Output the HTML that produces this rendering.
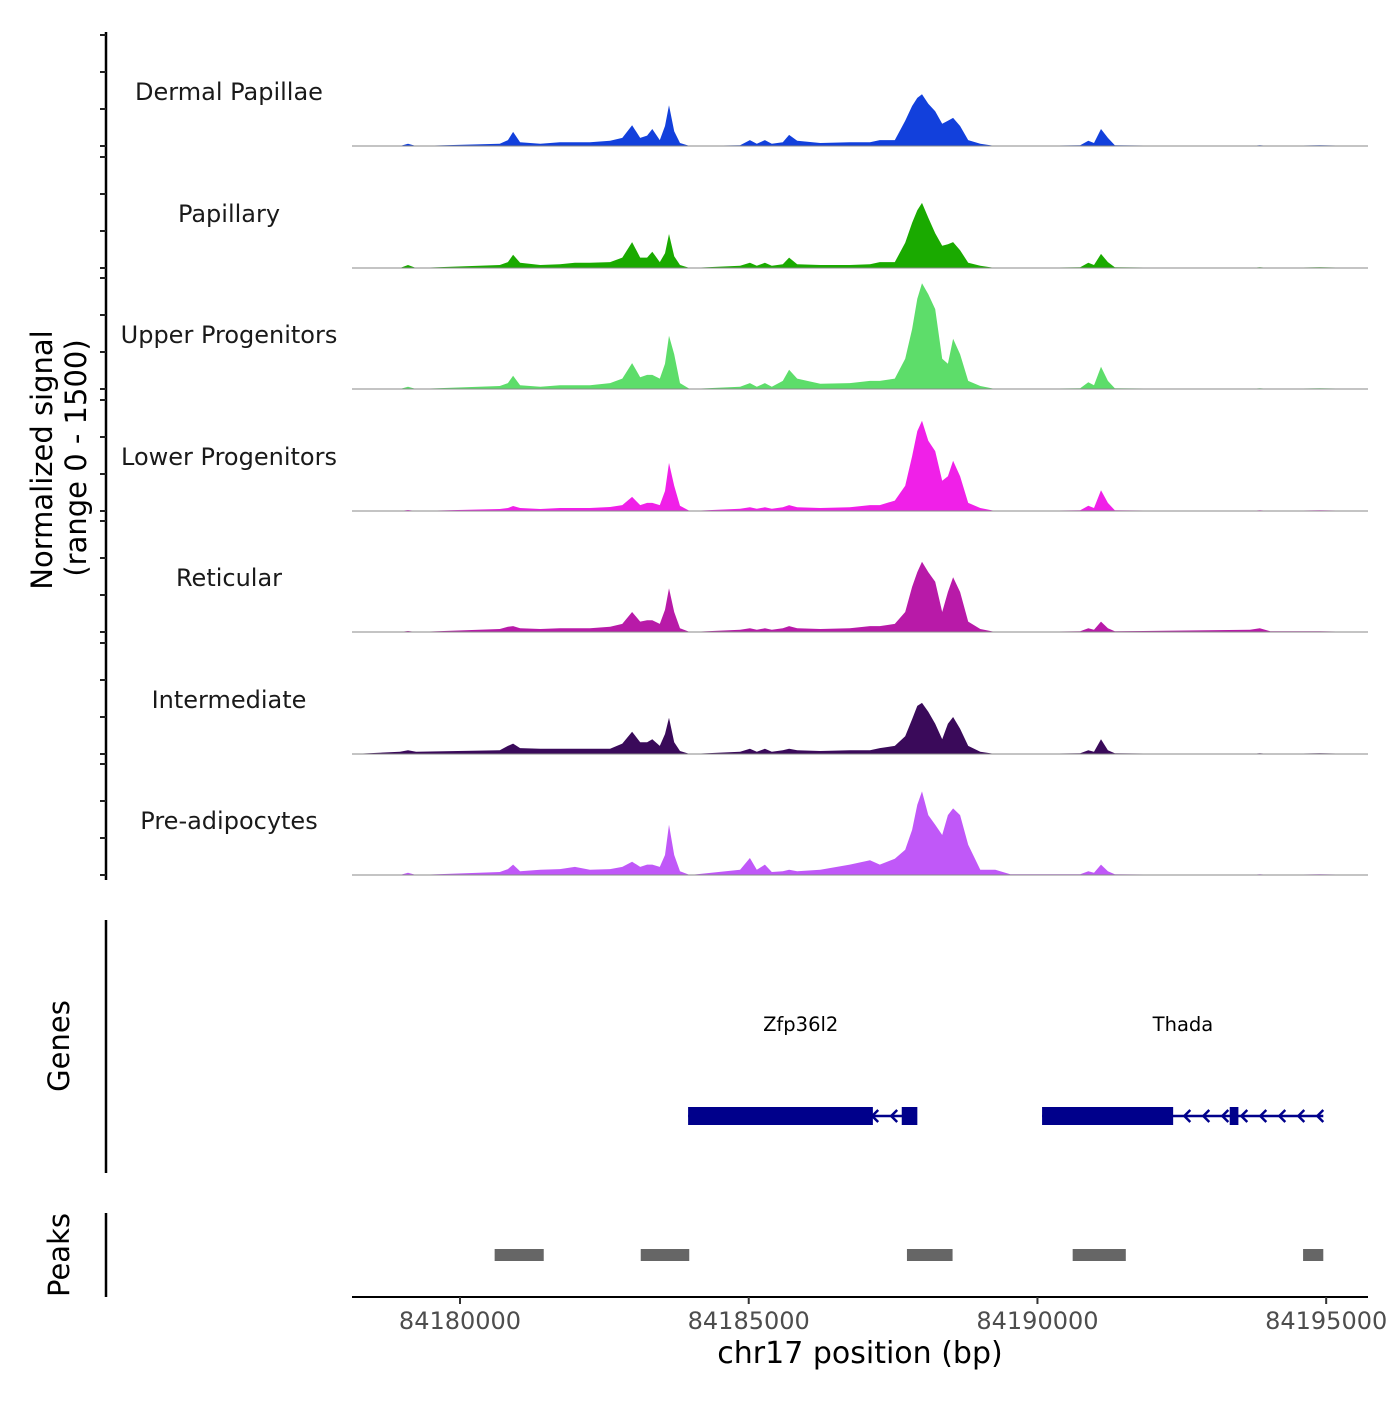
<!DOCTYPE html>
<html><head><meta charset="utf-8"><style>
body{margin:0;background:#fff}
svg text{font-family:"DejaVu Sans","Liberation Sans",sans-serif}
</style></head><body>
<svg id="chart" width="1400" height="1400" xmlns="http://www.w3.org/2000/svg">
<g id="tracks"></g>
<g id="left"></g>
<g id="genes"></g>
<g id="peaks"></g>
<g id="xaxis"></g>
</svg>
<script>
const positions=[-1870,-1040,-900,-760,690,830,920,1040,1390,1730,1990,2250,2600,2810,2980,3120,3240,3330,3460,3550,3620,3710,3810,3980,4850,5020,5140,5280,5400,5590,5700,5840,6240,6750,7100,7270,7530,7710,7830,7920,8000,8110,8230,8350,8450,8540,8660,8800,9010,9270,9530,10740,10880,10980,11100,11220,11340,13680,13850,14030,14890,15720];
const trackNames=["Dermal Papillae","Papillary","Upper Progenitors","Lower Progenitors","Reticular","Intermediate","Pre-adipocytes"];
const trackColors=["#1240dc","#1aaa00","#5ddd6a","#f020e8","#b81aa8","#3a0a5a","#c058f8"];
const sigDermal=[0,0,30,0,30,80,190,50,30,50,50,50,70,110,280,110,140,230,80,270,550,200,40,0,10,80,30,80,30,50,150,70,40,50,50,80,80,340,540,650,700,570,470,300,340,380,270,80,30,0,0,10,70,40,230,110,10,0,10,0,10,0];
const sigPapillary=[0,0,40,0,40,80,180,70,40,50,70,70,80,140,350,140,140,220,80,200,460,160,40,0,30,70,30,70,30,50,140,50,40,40,50,80,80,340,610,780,880,680,470,300,320,350,240,70,30,0,0,10,70,40,190,80,10,0,10,0,10,0];
const sigUpper=[0,0,30,0,40,80,180,50,30,50,50,50,80,140,350,160,190,190,140,340,720,470,80,0,30,80,30,80,30,110,260,140,70,80,110,110,140,410,810,1220,1430,1280,1080,410,340,680,470,110,40,0,0,10,90,50,300,110,10,0,10,0,10,0];
const sigLower=[0,0,14,0,27,40,68,40,27,40,40,40,54,80,190,80,110,110,80,270,650,340,70,0,30,50,30,50,30,50,80,50,40,50,80,80,140,340,740,1080,1220,950,810,410,470,680,470,110,40,0,0,10,70,40,280,110,10,0,10,0,10,0];
const sigReticular=[0,0,14,0,40,70,80,50,40,50,50,50,70,110,270,140,160,160,110,300,590,270,50,0,30,50,30,50,30,50,80,50,40,50,80,80,110,270,610,810,950,810,680,270,540,740,540,140,40,0,0,10,50,30,140,50,10,30,50,10,10,0];
const sigIntermediate=[0,30,50,30,50,110,140,80,70,70,70,70,70,140,300,160,160,200,110,270,490,160,40,0,30,70,30,70,30,50,70,50,40,50,50,80,110,240,470,650,690,570,410,200,410,500,340,110,30,0,0,10,50,30,200,50,10,0,10,0,10,0];
const sigPreadipo=[0,0,30,0,40,80,140,50,70,80,110,70,80,110,180,110,140,140,110,270,680,270,50,0,70,230,70,140,40,50,70,50,70,140,200,140,220,340,610,950,1130,810,680,540,810,900,810,410,70,70,10,10,50,30,140,50,10,0,10,0,10,0];
const xTicks=[84180000,84185000,84190000,84195000];
const genes=[{name:"Zfp36l2",start:84183950,end:84187900,label:84185900},{name:"Thada",start:84190080,end:84194950,label:84192520}];
const exons=[[84183950,84187150],[84187650,84187920],[84190080,84192350],[84193330,84193480]];
const peakStart=[84180600,84183130,84187740,84190610,84194600];
const peakEnd=[84181450,84183970,84188530,84191530,84194950];

const NS="http://www.w3.org/2000/svg";
const X0=84180000;
function xs(bp){return 460+(bp-X0)*0.057745;}
function xr(off){return xs(X0+off);}
const bases=[146,268,389,511,632,754,875];
function ys(v,b){return b-Math.min(v,1500)/1500*111;}
function mk(tag,attrs,parent){const e=document.createElementNS(NS,tag);for(const k in attrs)e.setAttribute(k,attrs[k]);parent.appendChild(e);return e;}
const series=[sigDermal,sigPapillary,sigUpper,sigLower,sigReticular,sigIntermediate,sigPreadipo];
const T=document.getElementById('tracks');
series.forEach((s,i)=>{
  const b=bases[i];
  let d="M"+xr(positions[0])+","+b;
  positions.forEach((p,j)=>{d+=" L"+xr(p).toFixed(1)+","+ys(s[j],b).toFixed(1);});
  d+=" L"+xr(positions[positions.length-1])+","+b+" Z";
  const a=mk('path',{d:d,fill:trackColors[i]},T);
  
  
  const l=mk('line',{x1:352,x2:1368,y1:b,y2:b,stroke:'#888','stroke-width':1},T);
  
  
  const t=mk('text',{x:229,y:b-46,'text-anchor':'middle','font-size':24,fill:'#1a1a1a'},T);
  t.textContent=trackNames[i];
  
  
});
const L=document.getElementById('left');
function vline(y1,y2,name){const e=mk('line',{x1:106,x2:106,y1:y1,y2:y2,stroke:'#000','stroke-width':2.5},L);}
vline(32,880,'signal-y-axis');vline(920,1173,'genes-y-axis');vline(1213,1297,'peaks-y-axis');
bases.forEach(b=>{for(let k=0;k<4;k++){const y=b-k*37;const e=mk('line',{x1:100,x2:106,y1:y,y2:y,stroke:'#222','stroke-width':2},L);}});
function vtext(x,y,txt,name){const e=mk('text',{x:x,y:y,transform:`rotate(-90 ${x} ${y})`,'text-anchor':'middle','font-size':29,fill:'#000'},L);e.textContent=txt;}
vtext(52,460,'Normalized signal','y-axis-title');vtext(86,458,'(range 0 - 1500)','y-axis-range');
vtext(69,1046,'Genes','genes-track-title');vtext(69,1255,'Peaks','peaks-track-title');
const G=document.getElementById('genes');
genes.forEach(g=>{
  const ln=mk('line',{x1:xs(g.start),x2:xs(g.end),y1:1116,y2:1116,stroke:'#00008b','stroke-width':2.5},G);
  
  for(let p=xs(g.end);p>xs(g.start)+10;p-=19){
    const c=mk('path',{d:`M${p} 1110 L${p-6} 1116 L${p} 1122`,fill:'none',stroke:'#00008b','stroke-width':2.5},G);
    
  }
  const t=mk('text',{x:xs(g.label),y:1031,'text-anchor':'middle','font-size':19.5,fill:'#000'},G);
  t.textContent=g.name;
});
exons.forEach(e=>{const r=mk('rect',{x:xs(e[0]),y:1107,width:xs(e[1])-xs(e[0]),height:18,fill:'#00008b'},G);});
const P=document.getElementById('peaks');
peakStart.forEach((s,i)=>{const r=mk('rect',{x:xs(s),y:1249,width:xs(peakEnd[i])-xs(s),height:12,fill:'#666'},P);});
const XA=document.getElementById('xaxis');
const ax=mk('line',{x1:352,x2:1368,y1:1297,y2:1297,stroke:'#000','stroke-width':2},XA);
xTicks.forEach(v=>{const x=xs(v);const tk=mk('line',{x1:x,x2:x,y1:1297,y2:1304,stroke:'#333','stroke-width':2},XA);
const t=mk('text',{x:x,y:1329,'text-anchor':'middle','font-size':24,fill:'#4d4d4d'},XA);t.textContent=v;});
const xt=mk('text',{x:860,y:1363,'text-anchor':'middle','font-size':30,fill:'#000'},XA);xt.textContent='chr17 position (bp)';
</script>
</body></html>
